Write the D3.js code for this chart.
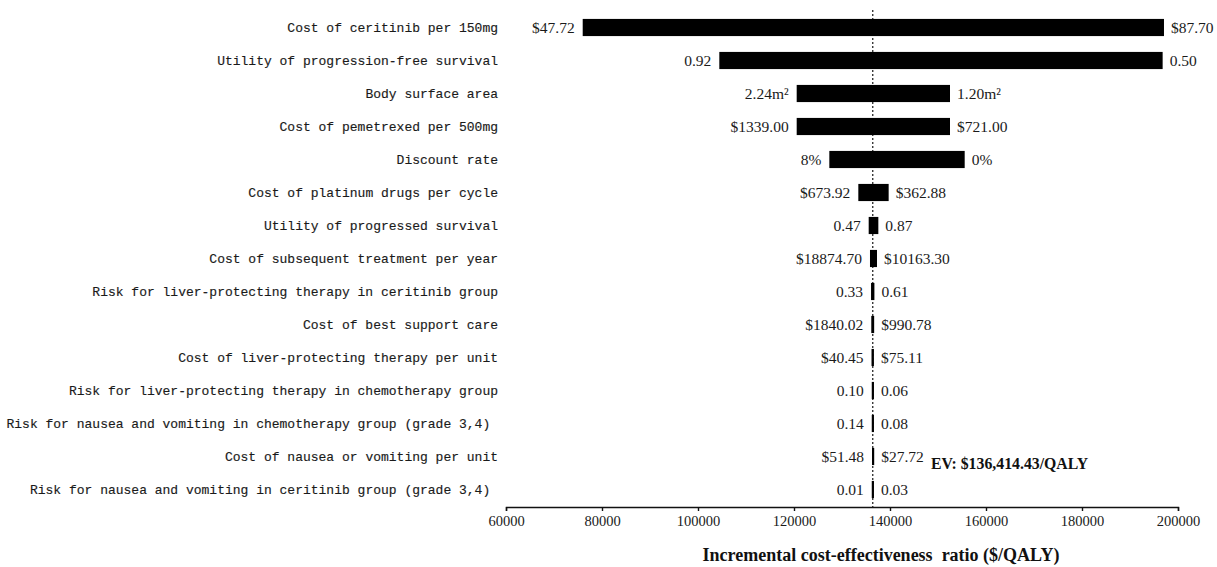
<!DOCTYPE html>
<html>
<head>
<meta charset="utf-8">
<script src="https://cdn.jsdelivr.net/npm/d3@7/dist/d3.min.js"></script>
<style>
  html, body { margin: 0; padding: 0; background: #fff; }
  svg { display: block; }
  .param { font-family: "Liberation Mono", monospace; font-size: 13px; fill: #1a1a1a;
           stroke: #1a1a1a; stroke-width: 0.15px; white-space: pre; }
  .val { font-family: "Liberation Serif", "Times New Roman", serif; font-size: 15.5px; fill: #1a1a1a; }
  .tick text { font-family: "Liberation Serif", "Times New Roman", serif; font-size: 14.5px; fill: #1a1a1a; }
  .bold { font-family: "Liberation Serif", "Times New Roman", serif; font-weight: bold; fill: #111; }
</style>
</head>
<body>
<svg id="chart" width="1217" height="567"></svg>
<script>
// One-way sensitivity analysis (tornado diagram) of the ICER
const params = [
  "Cost of ceritinib per 150mg",
  "Utility of progression-free survival",
  "Body surface area",
  "Cost of pemetrexed per 500mg",
  "Discount rate",
  "Cost of platinum drugs per cycle",
  "Utility of progressed survival",
  "Cost of subsequent treatment per year",
  "Risk for liver-protecting therapy in ceritinib group",
  "Cost of best support care",
  "Cost of liver-protecting therapy per unit",
  "Risk for liver-protecting therapy in chemotherapy group",
  "Risk for nausea and vomiting in chemotherapy group (grade 3,4) ",
  "Cost of nausea or vomiting per unit",
  "Risk for nausea and vomiting in ceritinib group (grade 3,4) "
];

// Parameter values that produce the lower / upper ICER
const lowLabels  = ["$47.72", "0.92", "2.24m\u00B2", "$1339.00", "8%", "$673.92", "0.47", "$18874.70",
                    "0.33", "$1840.02", "$40.45", "0.10", "0.14", "$51.48", "0.01"];
const highLabels = ["$87.70", "0.50", "1.20m\u00B2", "$721.00", "0%", "$362.88", "0.87", "$10163.30",
                    "0.61", "$990.78", "$75.11", "0.06", "0.08", "$27.72", "0.03"];

// ICER ($/QALY) at each end of the range
const icerLow  = [75980, 104440, 120560, 120560, 127360, 133400, 135560, 135830,
                  136050, 136100, 136150, 136200, 136200, 136250, 136200];
const icerHigh = [197080, 196800, 152500, 152500, 155560, 139720, 137570, 137290,
                  136750, 136700, 136650, 136600, 136600, 136550, 136600];

const baseICER = 136414.43;
const xTicks = [60000, 80000, 100000, 120000, 140000, 160000, 180000, 200000];
const axisTitle = "Incremental cost-effectiveness\u00A0 ratio ($/QALY)";
const evLabel = "EV: $136,414.43/QALY";

const rows = params.map((p, i) => ({
  name: p, lo: icerLow[i], hi: icerHigh[i], loText: lowLabels[i], hiText: highLabels[i]
}));

const svg = d3.select("#chart");
const axisY = 507;

const x = d3.scaleLinear().domain([60000, 200000]).range([506, 1178]);
const y = d3.scaleBand().domain(params).range([11, axisY - 1])
  .paddingInner(0.48).paddingOuter(0.24);

// bars
svg.append("g").selectAll("rect").data(rows).join("rect")
  .attr("x", d => x(Math.min(d.lo, d.hi)))
  .attr("y", d => y(d.name))
  .attr("width", d => Math.max(2.2, Math.abs(x(d.hi) - x(d.lo))))
  .attr("height", y.bandwidth())
  .attr("fill", "#000");

// base-case reference line
svg.append("line")
  .attr("x1", x(baseICER)).attr("x2", x(baseICER))
  .attr("y1", 10).attr("y2", axisY)
  .attr("stroke", "#000").attr("stroke-width", 1.1)
  .attr("stroke-dasharray", "2,2");

// parameter names
svg.append("g").selectAll("text").data(rows).join("text")
  .attr("class", "param")
  .attr("x", 498)
  .attr("y", d => y(d.name) + y.bandwidth() / 2)
  .attr("dy", "0.35em")
  .attr("text-anchor", "end")
  .text(d => d.name);

// value labels at both ends
svg.append("g").selectAll("text").data(rows).join("text")
  .attr("class", "val")
  .attr("x", d => x(Math.min(d.lo, d.hi)) - 8)
  .attr("y", d => y(d.name) + y.bandwidth() / 2)
  .attr("dy", "0.35em")
  .attr("text-anchor", "end")
  .text(d => d.loText);

svg.append("g").selectAll("text").data(rows).join("text")
  .attr("class", "val")
  .attr("x", d => Math.max(x(d.hi), x(d.lo) + 2.2) + 7)
  .attr("y", d => y(d.name) + y.bandwidth() / 2)
  .attr("dy", "0.35em")
  .attr("text-anchor", "start")
  .text(d => d.hiText);

// x axis
const gx = svg.append("g")
  .attr("transform", `translate(0,${axisY})`)
  .call(d3.axisBottom(x).tickValues(xTicks).tickFormat(d3.format("d"))
    .tickSizeInner(4).tickSizeOuter(4).tickPadding(5));
gx.select(".domain").attr("stroke", "#111").attr("stroke-width", 1.4);
gx.selectAll(".tick line").attr("stroke", "#111").attr("stroke-width", 1.4);

svg.append("text")
  .attr("class", "bold")
  .attr("x", 881).attr("y", 561)
  .attr("text-anchor", "middle")
  .style("font-size", "18px")
  .text(axisTitle);

svg.append("text")
  .attr("class", "bold")
  .attr("x", 931).attr("y", 469)
  .style("font-size", "15.8px")
  .text(evLabel);
</script>
</body>
</html>
